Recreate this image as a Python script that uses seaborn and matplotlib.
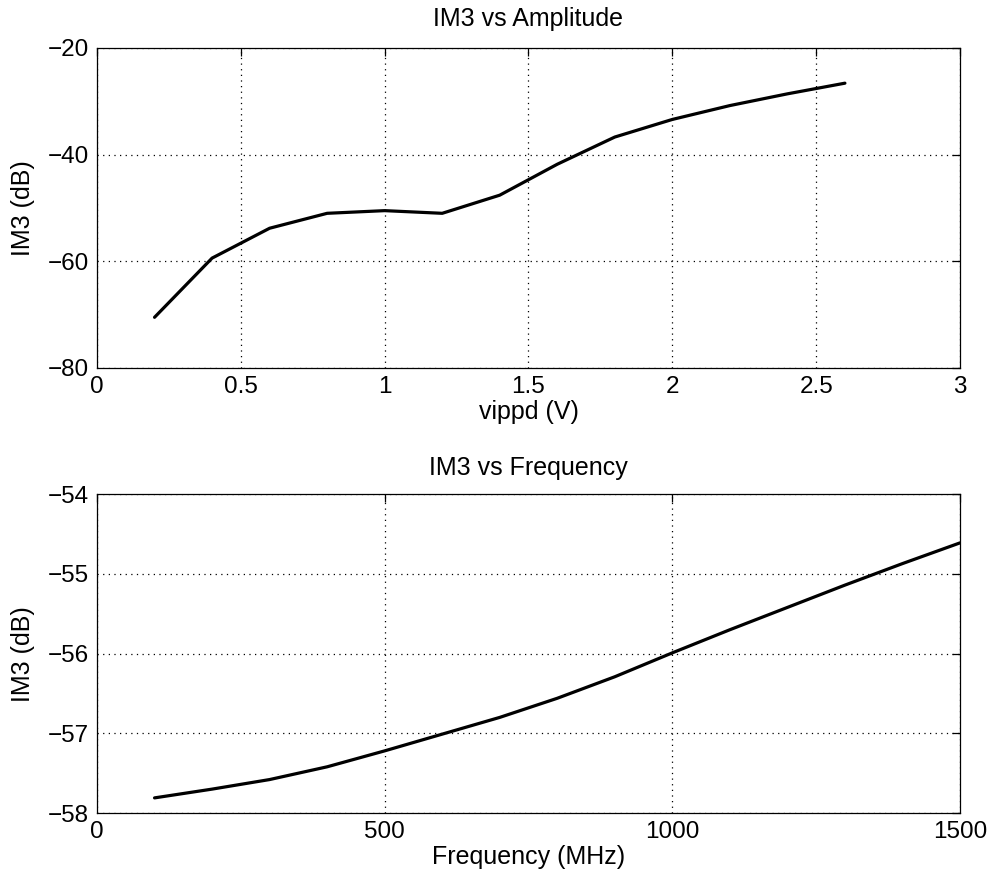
import matplotlib
matplotlib.use("Agg")
import matplotlib.pyplot as plt
import numpy as np
import pandas as pd
import seaborn as sns

# amplitude sweep
vippd = [0.2, 0.4, 0.6, 0.8, 1.0, 1.2, 1.4, 1.6, 1.8, 2.0, 2.2, 2.4, 2.6]
im3_amp = [-70.5, -59.4, -53.8, -51.0, -50.5, -51.0, -47.6, -41.8, -36.7, -33.4, -30.8, -28.6, -26.6]

# frequency sweep
freq = [100, 200, 300, 400, 500, 600, 700, 800, 900, 1000, 1100, 1200, 1300, 1400, 1500]
im3_freq = [-57.81, -57.70, -57.58, -57.42, -57.22, -57.01, -56.80, -56.56, -56.29,
            -55.99, -55.70, -55.42, -55.14, -54.87, -54.61]

sns.set_style('white')
plt.rcParams['font.family'] = ['Liberation Sans', 'DejaVu Sans']
plt.rcParams['axes.unicode_minus'] = True
plt.rcParams['text.color'] = 'black'
plt.rcParams['axes.labelcolor'] = 'black'

fig = plt.figure(figsize=(9.95, 8.82), dpi=100)
ax1 = fig.add_axes([0.0975, 0.5828, 0.8673, 0.3628])
ax2 = fig.add_axes([0.0975, 0.0782, 0.8673, 0.3614])

df1 = pd.DataFrame(dict(vippd=vippd, im3=im3_amp))
df2 = pd.DataFrame(dict(freq=freq, im3=im3_freq))

sns.lineplot(data=df1, x='vippd', y='im3', color='black', linewidth=2.3, ax=ax1)
sns.lineplot(data=df2, x='freq', y='im3', color='black', linewidth=2.3, ax=ax2)

ax1.set_xlim(0, 3)
ax1.set_ylim(-80, -20)
ax1.set_xticks([0, 0.5, 1, 1.5, 2, 2.5, 3])
ax1.set_xticklabels(['0', '0.5', '1', '1.5', '2', '2.5', '3'])
ax1.set_yticks([-80, -60, -40, -20])
ax1.set_title('IM3 vs Amplitude', fontsize=18, pad=16, color='black')
ax1.set_xlabel('vippd (V)', fontsize=18, labelpad=1)
ax1.set_ylabel('IM3 (dB)', fontsize=18, labelpad=9)

ax2.set_xlim(0, 1500)
ax2.set_ylim(-58, -54)
ax2.set_xticks([0, 500, 1000, 1500])
ax2.set_yticks([-58, -57, -56, -55, -54])
ax2.set_title('IM3 vs Frequency', fontsize=18, pad=14, color='black')
ax2.set_xlabel('Frequency (MHz)', fontsize=18, labelpad=1)
ax2.set_ylabel('IM3 (dB)', fontsize=18, labelpad=9)

for ax in (ax1, ax2):
    ax.grid(True, color='black', linestyle=(0, (1, 3.5)), linewidth=0.9)
    ax.tick_params(direction='in', length=6, width=0.9, top=True, right=True,
                   labelsize=17.5, pad=6, colors='black')
    for sp in ax.spines.values():
        sp.set_visible(True)
        sp.set_color('black')
        sp.set_linewidth(0.9)

fig.savefig('out.png', dpi=100, facecolor='white')
